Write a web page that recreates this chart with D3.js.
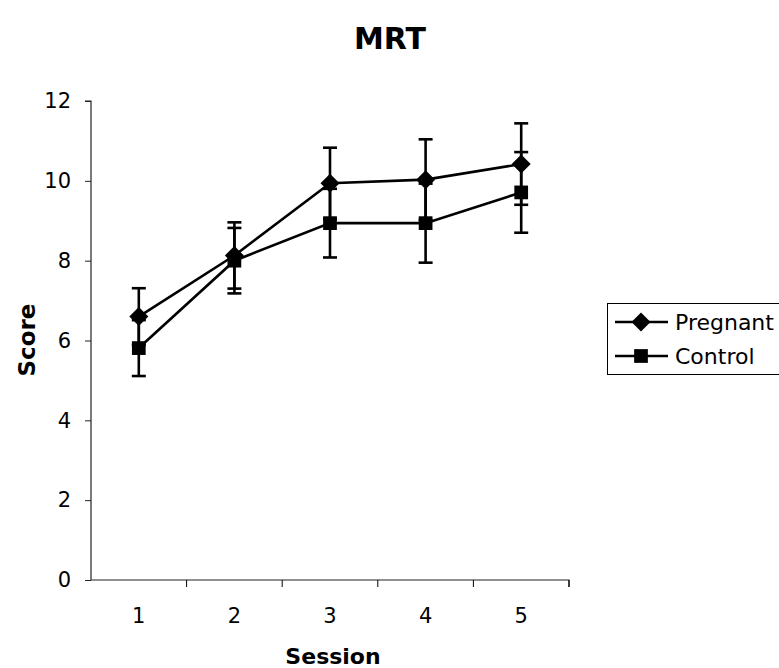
<!DOCTYPE html>
<html>
<head>
<meta charset="utf-8">
<script src="https://cdn.jsdelivr.net/npm/d3@7"></script>
<style>
  html, body { margin: 0; padding: 0; background: #fff; }
  svg { display: block; }
  text { font-family: "DejaVu Sans", Verdana, sans-serif; fill: #000; }
</style>
</head>
<body>
<svg id="chart" width="779" height="668"></svg>
<script>
// MRT scores by session, means with error bars
const sessions = ["1", "2", "3", "4", "5"];
const pregnantMean = [6.60, 8.13, 9.94, 10.03, 10.42];
const pregnantErr  = [0.71, 0.83, 0.89, 1.01, 1.02];
const controlMean  = [5.81, 8.00, 8.94, 8.94, 9.71];
const controlErr   = [0.70, 0.82, 0.86, 0.99, 1.01];
const yTicks = [0, 2, 4, 6, 8, 10, 12];
const seriesNames = ["Pregnant", "Control"];

const series = [
  { name: seriesNames[0], mean: pregnantMean, err: pregnantErr, symbol: d3.symbolDiamond2, size: 230 },
  { name: seriesNames[1], mean: controlMean, err: controlErr, symbol: d3.symbolSquare2, size: 240 }
];

const svg = d3.select("#chart");
const plot = { left: 91, right: 569, top: 101, bottom: 580 };

const x = d3.scaleBand().domain(sessions).range([plot.left, plot.right]);
const y = d3.scaleLinear().domain([0, 12]).range([plot.bottom, plot.top]);

// Title
svg.append("text")
  .attr("x", 390).attr("y", 49)
  .attr("text-anchor", "middle")
  .style("font-size", "30px").style("font-weight", "bold")
  .text("MRT");

// Y axis
const yAxis = svg.append("g")
  .attr("transform", `translate(${plot.left},0)`)
  .call(d3.axisLeft(y).tickValues(yTicks).tickSize(6).tickPadding(14));
yAxis.selectAll("text").style("font-size", "21px");

// X axis: ticks at the category boundaries
const xAxis = svg.append("g")
  .attr("transform", `translate(0,${plot.bottom})`)
  .call(d3.axisBottom(x).tickSize(0).tickPadding(28));
xAxis.selectAll("text").style("font-size", "21px");
const boundaries = sessions.map(s => x(s)).concat([plot.right]);
xAxis.selectAll(".bound").data(boundaries.slice(1)).enter()
  .append("line").attr("class", "bound")
  .attr("x1", d => d).attr("x2", d => d)
  .attr("y1", 0).attr("y2", 7)
  .attr("stroke", "#000");
[yAxis, xAxis].forEach(g => {
  g.select(".domain").attr("stroke", "#222").attr("stroke-width", 1.2);
  g.selectAll(".tick line").attr("stroke", "#222");
});
yAxis.select(".domain").attr("d", `M-6,${plot.top}H0V${plot.bottom}`);
xAxis.select(".domain").attr("d", `M${plot.left},0H${plot.right}V7`);

// Axis titles
svg.append("text")
  .attr("x", 333).attr("y", 664)
  .attr("text-anchor", "middle")
  .style("font-size", "22px").style("font-weight", "bold")
  .text("Session");
svg.append("text")
  .attr("transform", "translate(35,340) rotate(-90)")
  .attr("text-anchor", "middle")
  .style("font-size", "23px").style("font-weight", "bold")
  .text("Score");

const cx = s => x(s) + x.bandwidth() / 2;
const line = d3.line().x(d => cx(d.s)).y(d => y(d.v));

series.forEach(sr => {
  const pts = sessions.map((s, i) => ({ s, v: sr.mean[i], e: sr.err[i] }));
  const g = svg.append("g");
  // error bars
  const eb = g.selectAll(".eb").data(pts).enter().append("g");
  eb.append("line")
    .attr("x1", d => cx(d.s)).attr("x2", d => cx(d.s))
    .attr("y1", d => y(d.v - d.e)).attr("y2", d => y(d.v + d.e))
    .attr("stroke", "#000").attr("stroke-width", 2.6);
  [-1, 1].forEach(sign => {
    eb.append("line")
      .attr("x1", d => cx(d.s) - 7).attr("x2", d => cx(d.s) + 7)
      .attr("y1", d => y(d.v + sign * d.e)).attr("y2", d => y(d.v + sign * d.e))
      .attr("stroke", "#000").attr("stroke-width", 2.6);
  });
  // connecting line
  g.append("path").datum(pts)
    .attr("d", line).attr("fill", "none")
    .attr("stroke", "#000").attr("stroke-width", 2.6);
  // markers
  g.selectAll(".m").data(pts).enter().append("path")
    .attr("transform", d => `translate(${cx(d.s)},${y(d.v)})`)
    .attr("d", d3.symbol().type(sr.symbol).size(sr.size))
    .attr("fill", "#000");
});

// Legend
const lg = svg.append("g");
lg.append("rect")
  .attr("x", 607.5).attr("y", 303.5).attr("width", 175).attr("height", 71)
  .attr("fill", "#fff").attr("stroke", "#000").attr("stroke-width", 1);
series.forEach((sr, i) => {
  const ly = 322 + i * 34;
  lg.append("line").attr("x1", 615).attr("x2", 668).attr("y1", ly).attr("y2", ly)
    .attr("stroke", "#000").attr("stroke-width", 2.6);
  lg.append("path")
    .attr("transform", `translate(641,${ly})`)
    .attr("d", d3.symbol().type(sr.symbol).size(sr.size))
    .attr("fill", "#000");
  lg.append("text").attr("x", 675).attr("y", ly).attr("dy", "0.36em")
    .style("font-size", "22px").text(sr.name);
});
</script>
</body>
</html>
